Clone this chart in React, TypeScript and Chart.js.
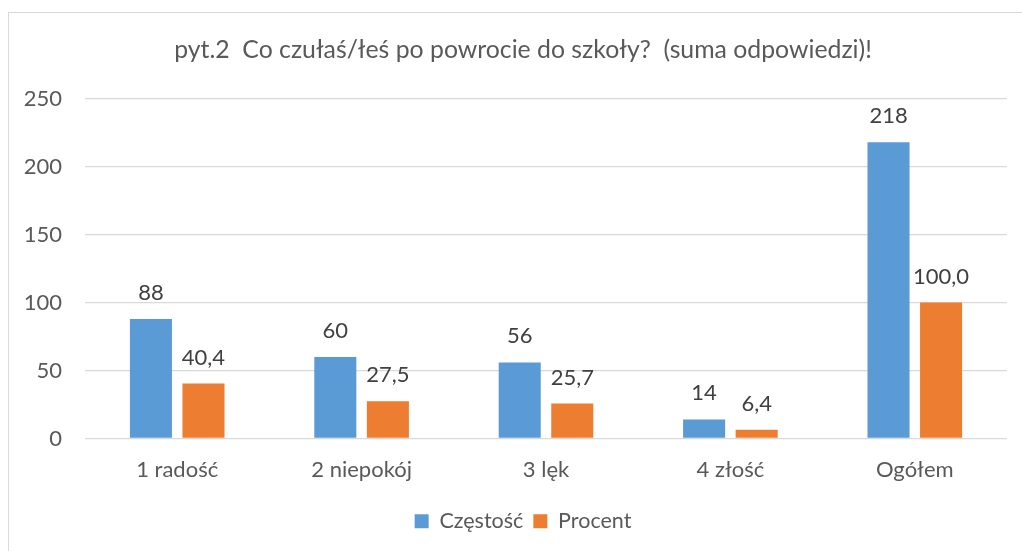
import React, { useEffect, useRef } from "react";
import { Chart, registerables } from "chart.js";

Chart.register(...registerables);

const categories = ["1 radość", "2 niepokój", "3 lęk", "4 złość", "Ogółem"];
const czestosc = [88, 60, 56, 14, 218];
const procent = [40.4, 27.5, 25.7, 6.4, 100.0];
const yTicks = [0, 50, 100, 150, 200, 250];
const titleText = "pyt.2  Co czułaś/łeś po powrocie do szkoły?  (suma odpowiedzi)!";

const FONT = "Lato, 'Open Sans', sans-serif";
const TEXT = "#595959";

const labelsPlugin = {
  id: "valueLabels",
  afterLayout(chart: any) {
    // widen the y-axis label clip area so its labels can sit left of the layout padding
    chart.scales.y.left = 0;
  },
  afterDatasetsDraw(chart: any) {
    const ctx = chart.ctx;
    ctx.save();
    ctx.font = `22px ${FONT}`;
    ctx.fillStyle = "#404040";
    ctx.textAlign = "center";
    ctx.textBaseline = "alphabetic";
    chart.data.datasets.forEach((ds: any, di: number) => {
      const meta = chart.getDatasetMeta(di);
      meta.data.forEach((bar: any, i: number) => {
        const v = ds.data[i];
        const txt = di === 1 ? v.toFixed(1).replace(".", ",") : String(v);
        ctx.fillText(txt, bar.x, bar.y - 19);
      });
    });
    ctx.restore();
  },
};

export default function App() {
  const ref = useRef<HTMLCanvasElement>(null);
  useEffect(() => {
    const chart = new Chart(ref.current!, {
      type: "bar",
      data: {
        labels: categories,
        datasets: [
          { label: "Częstość", data: czestosc, backgroundColor: "#5B9BD5" },
          { label: "Procent", data: procent, backgroundColor: "#ED7D31" },
        ],
      },
      options: {
        animation: false,
        responsive: false,
        maintainAspectRatio: false,
        layout: { padding: { left: 39, right: 15, top: 0, bottom: 9 } },
        datasets: { bar: { categoryPercentage: 0.57, barPercentage: 0.8 } },
        plugins: {
          title: {
            display: true,
            text: titleText,
            color: TEXT,
            font: { family: FONT, size: 24.8, weight: "normal" },
            padding: { top: 35, bottom: 34 },
          },
          legend: {
            position: "bottom",
            labels: {
              color: TEXT,
              font: { family: FONT, size: 21.5 },
              boxWidth: 14,
              boxHeight: 14,
              padding: 10,
            },
          },
          tooltip: { enabled: false },
        },
        scales: {
          x: {
            grid: { display: false },
            border: { display: false },
            ticks: { color: TEXT, font: { family: FONT, size: 22 }, padding: 10 },
            afterFit: (s: any) => { s.height = 62; },
          },
          y: {
            min: 0,
            max: 250,
            afterBuildTicks: (s: any) => { s.ticks = yTicks.map((v) => ({ value: v })); },
            grid: { color: "#D9D9D9", drawTicks: false, lineWidth: 1.3 },
            border: { display: false },
            ticks: { color: TEXT, font: { family: FONT, size: 22 }, padding: 23 },
            afterFit: (s: any) => { s.width = 46; },
          },
        },
      },
      plugins: [labelsPlugin],
    });
    return () => chart.destroy();
  }, []);
  return (
    <div style={{ position: "fixed", left: 0, top: 0, width: 1022, height: 551, background: "#fff", overflow: "hidden" }}>
      <div style={{ position: "absolute", left: 8, top: 12, width: 1100, height: 600, border: "1.5px solid #D9D9D9" }} />
      <canvas ref={ref} width={1022} height={551} style={{ position: "absolute", left: 0, top: 0 }} />
    </div>
  );
}
